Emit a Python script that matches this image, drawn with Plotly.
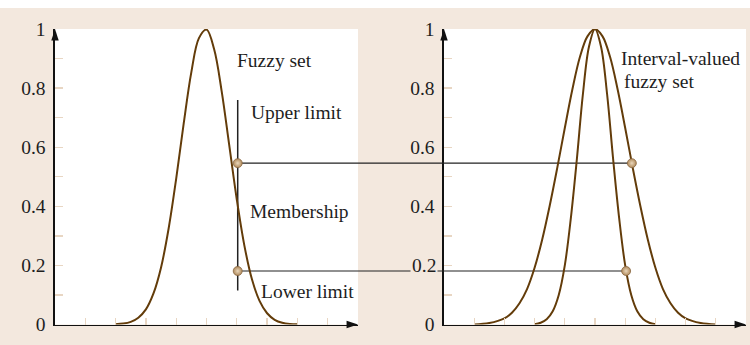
import plotly.graph_objects as go

# ---------------- data ----------------
y_ticks = [0, 0.1, 0.2, 0.3, 0.4, 0.5, 0.6, 0.7, 0.8, 0.9, 1.0]
y_tick_labels_left = ["0", "", "0.2", "", "0.4", "", "0.6", "", "0.8", "", "1"]
y_tick_labels_right = ["0", "", "", "", "0.4", "", "0.6", "", "0.8", "", "1"]
x_ticks = [1, 2, 3, 4, 5, 6, 7, 8, 9, 10]
x_min, x_max = 0, 10
y_min, y_max = 0, 1

# type-1 fuzzy set (left)
fuzzy_x = [2.0, 2.25, 2.5, 2.75, 3.0, 3.25, 3.5, 3.75, 4.0, 4.25, 4.5, 4.75, 5.0,
           5.25, 5.5, 5.75, 6.0, 6.25, 6.5, 6.75, 7.0, 7.25, 7.5, 7.75, 8.0]
fuzzy_y = [0.001, 0.003, 0.009, 0.023, 0.051, 0.105, 0.193, 0.325, 0.494, 0.682, 0.854,
           0.969, 0.998, 0.932, 0.79, 0.607, 0.423, 0.267, 0.153, 0.08, 0.038, 0.016, 0.006,
           0.002, 0.001]

# interval-valued fuzzy set (right): upper (wide) membership
wide_x = [1.0, 1.5, 2.0, 2.25, 2.5, 2.75, 3.0, 3.25, 3.5, 3.75, 4.0, 4.25, 4.5, 4.75,
          5.0, 5.25, 5.5, 5.75, 6.0, 6.25, 6.5, 6.75, 7.0, 7.25, 7.5, 7.75, 8.0, 8.5, 9.0]
wide_y = [0.0, 0.005, 0.021, 0.04, 0.072, 0.12, 0.192, 0.287, 0.402, 0.53, 0.665, 0.795,
          0.905, 0.975, 1.0, 0.975, 0.905, 0.795, 0.665, 0.53, 0.402, 0.287, 0.192, 0.12,
          0.072, 0.04, 0.021, 0.005, 0.0]
# lower (narrow) membership
narrow_x = [3.0, 3.2, 3.4, 3.6, 3.8, 4.0, 4.2, 4.4, 4.6, 4.8, 5.0,
            5.2, 5.4, 5.6, 5.8, 6.0, 6.2, 6.4, 6.6, 6.8, 7.0]
narrow_y = [0.001, 0.006, 0.018, 0.045, 0.1, 0.2, 0.36, 0.56, 0.78, 0.94, 1.0,
            0.94, 0.78, 0.56, 0.36, 0.2, 0.1, 0.045, 0.018, 0.006, 0.001]

# membership read-out
probe_x = 6.03          # x where the membership interval is read
upper_level = 0.546     # upper limit
lower_level = 0.181     # lower limit
upper_x_right = 6.22    # where the upper level meets the wide curve
lower_x_right = 6.03    # where the lower level meets the narrow curve
bar_bottom, bar_top = 0.115, 0.76

# ---------------- style ----------------
BEIGE = "#f3e8de"
TICK = "#e8d6c3"
CURVE = "#633c0a"
LINE = "#222222"
TXT = "#1e1e1e"
FONT = "Liberation Serif"
FS = 19.5

XD1 = [55 / 750, 358 / 750]
XD2 = [444 / 750, 746 / 750]
YD = [20.5 / 345, 316 / 345]

fig = go.Figure()

# white strip along the top edge of the picture
fig.add_shape(type="rect", xref="paper", yref="paper", x0=0, x1=1, y0=337 / 345, y1=1,
              fillcolor="white", line_width=0, layer="below")

# horizontal level lines (left part, right part, gap between panels)
for lvl, xr in [(upper_level, upper_x_right), (lower_level, lower_x_right)]:
    fig.add_trace(go.Scatter(x=[probe_x, x_max], y=[lvl, lvl], mode="lines",
                             line=dict(color=LINE, width=1.1), xaxis="x", yaxis="y",
                             hoverinfo="skip"))
    fig.add_trace(go.Scatter(x=[x_min, xr], y=[lvl, lvl], mode="lines",
                             line=dict(color=LINE, width=1.1), xaxis="x2", yaxis="y2",
                             hoverinfo="skip"))
    fig.add_shape(type="line", xref="paper", yref="y", x0=XD1[1], x1=XD2[0],
                  y0=lvl, y1=lvl, line=dict(color=LINE, width=1.1), layer="above")

# vertical membership bar
fig.add_trace(go.Scatter(x=[probe_x, probe_x], y=[bar_bottom, bar_top], mode="lines",
                         line=dict(color=LINE, width=1.5), xaxis="x", yaxis="y",
                         hoverinfo="skip"))

# curves
fig.add_trace(go.Scatter(x=fuzzy_x, y=fuzzy_y, mode="lines", line_shape="spline",
                         line=dict(color=CURVE, width=2), xaxis="x", yaxis="y"))
fig.add_trace(go.Scatter(x=wide_x, y=wide_y, mode="lines", line_shape="spline",
                         line=dict(color=CURVE, width=2), xaxis="x2", yaxis="y2"))
fig.add_trace(go.Scatter(x=narrow_x, y=narrow_y, mode="lines", line_shape="spline",
                         line=dict(color=CURVE, width=2), xaxis="x2", yaxis="y2"))

# ball markers
ball = dict(size=9, color="#b08a5c", line=dict(color="#8a6842", width=0.8),
            gradient=dict(type="radial", color="#ead7bb"))
fig.add_trace(go.Scatter(x=[probe_x, probe_x], y=[upper_level, lower_level], mode="markers",
                         marker=ball, xaxis="x", yaxis="y"))
fig.add_trace(go.Scatter(x=[upper_x_right, lower_x_right], y=[upper_level, lower_level],
                         mode="markers", marker=ball, xaxis="x2", yaxis="y2"))

# axis arrowheads
for xa, ya in [("x", "y"), ("x2", "y2")]:
    fig.add_trace(go.Scatter(x=[x_min], y=[y_max], mode="markers", cliponaxis=False,
                             marker=dict(symbol="arrow", size=12, angle=0, color="#111"),
                             xaxis=xa, yaxis=ya))
    fig.add_trace(go.Scatter(x=[x_max], y=[y_min], mode="markers", cliponaxis=False,
                             marker=dict(symbol="arrow", size=12, angle=90, color="#111"),
                             xaxis=xa, yaxis=ya))

xcommon = dict(range=[x_min, x_max], showgrid=False, zeroline=False, showline=True,
               linecolor="#111", linewidth=1.6, ticks="inside", ticklen=7, tickwidth=1.3,
               tickcolor=TICK, tickvals=x_ticks, showticklabels=False, fixedrange=True,
               automargin=False)
ycommon = dict(range=[y_min, y_max], showgrid=False, zeroline=False, showline=True,
               linecolor="#111", linewidth=1.6, ticks="inside", ticklen=8, tickwidth=1.3,
               tickcolor=TICK, tickvals=y_ticks, ticklabelstandoff=4,
               tickfont=dict(family=FONT, size=FS, color=TXT), fixedrange=True,
               automargin=False)

fig.update_layout(
    template="none",
    width=750, height=345, margin=dict(l=0, r=0, t=0, b=0, pad=0), autosize=False,
    paper_bgcolor=BEIGE, plot_bgcolor="white", showlegend=False, hovermode=False,
    xaxis=dict(domain=XD1, anchor="y", **xcommon),
    yaxis=dict(domain=YD, anchor="x", ticktext=y_tick_labels_left, **ycommon),
    xaxis2=dict(domain=XD2, anchor="y2", **xcommon),
    yaxis2=dict(domain=YD, anchor="x2", ticktext=y_tick_labels_right, **ycommon),
)

ann_font = dict(family=FONT, size=FS, color=TXT)
texts = [
    ("x", "y", 5.94, 0.892, "Fuzzy set"),
    ("x", "y", 6.40, 0.716, "Upper limit"),
    ("x", "y", 6.36, 0.381, "Membership"),
    ("x", "y", 6.73, 0.113, "Lower limit"),
    ("x2", "y2", 5.79, 0.901, "Interval-valued"),
    ("x2", "y2", 5.90, 0.822, "fuzzy set"),
]
for xr, yr, x, y, t in texts:
    fig.add_annotation(xref=xr, yref=yr, x=x, y=y, text=t, showarrow=False,
                       xanchor="left", yanchor="middle", font=ann_font)

# "0.2" label of the right axis, sitting over the lower level line
fig.add_annotation(xref="x2 domain", yref="y2", x=0, y=0.2, text="0.2", showarrow=False,
                   xanchor="right", yanchor="middle", xshift=-6, font=ann_font,
                   bgcolor=BEIGE, borderpad=1)

fig.write_html("out.html", config={"responsive": False, "displayModeBar": False,
                                   "staticPlot": True},
               post_script="document.body.style.margin='0';document.body.style.overflow='hidden';")
